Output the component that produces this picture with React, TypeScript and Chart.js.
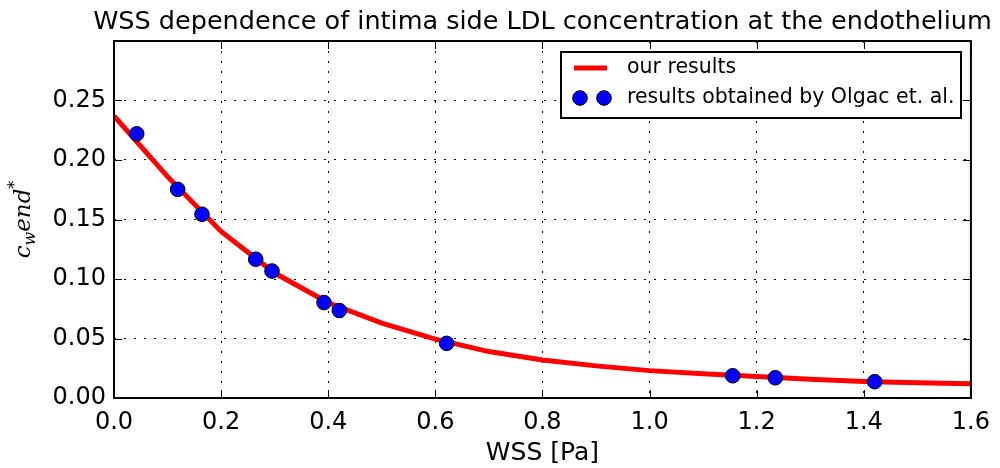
import React, { useEffect, useRef } from "react";
import { Chart, registerables } from "chart.js";

Chart.register(...registerables);

const titleText = "WSS dependence of intima side LDL concentration at the endothelium";
const xTitle = "WSS [Pa]";
const lineLabel = "our results";
const dotLabel = "results obtained by Olgac et. al.";

const curveX = [0.0, 0.1, 0.2, 0.3, 0.4, 0.5, 0.6, 0.7, 0.8, 0.9, 1.0, 1.1, 1.2, 1.3, 1.4, 1.5, 1.6];
const curveY = [0.237, 0.186, 0.140, 0.105, 0.080, 0.063, 0.0495, 0.039, 0.032, 0.027, 0.023, 0.0204, 0.018, 0.0157, 0.0139, 0.0128, 0.012];

const olgacX = [0.0424, 0.1189, 0.1643, 0.2646, 0.2950, 0.3921, 0.4207, 0.6211, 1.1552, 1.2347, 1.4203];
const olgacY = [0.2220, 0.1753, 0.1544, 0.1166, 0.1067, 0.0802, 0.0735, 0.0459, 0.0187, 0.0170, 0.0137];

const xTicks = [0, 0.2, 0.4, 0.6, 0.8, 1.0, 1.2, 1.4, 1.6];
const yTicks = [0, 0.05, 0.1, 0.15, 0.2, 0.25, 0.3];

const FONT = "'DejaVu Sans', sans-serif";

const decorPlugin = {
  id: "decor",
  afterDraw(chart: any) {
    const { ctx, chartArea } = chart;
    const { left, right, top, bottom } = chartArea;
    const xs = chart.scales.x;
    const ys = chart.scales.y;
    ctx.save();
    // inward ticks
    ctx.strokeStyle = "#000";
    ctx.lineWidth = 1;
    const tl = 8;
    ctx.beginPath();
    xTicks.forEach((v) => {
      const px = Math.round(xs.getPixelForValue(v)) + 0.5;
      ctx.moveTo(px, bottom);
      ctx.lineTo(px, bottom - tl);
      ctx.moveTo(px, top);
      ctx.lineTo(px, top + tl);
    });
    yTicks.forEach((v) => {
      const py = Math.round(ys.getPixelForValue(v)) + 0.5;
      ctx.moveTo(left, py);
      ctx.lineTo(left + tl, py);
      ctx.moveTo(right, py);
      ctx.lineTo(right - tl, py);
    });
    ctx.stroke();
    // frame
    ctx.lineWidth = 2;
    ctx.strokeRect(left, top, right - left, bottom - top);

    // title
    ctx.fillStyle = "#000";
    ctx.font = `25.5px ${FONT}`;
    ctx.textAlign = "center";
    ctx.textBaseline = "alphabetic";
    ctx.fillText(titleText, (left + right) / 2, 29);

    // x title
    ctx.font = `25px ${FONT}`;
    ctx.fillText(xTitle, (left + right) / 2, 460);

    // y title (math italic)
    ctx.save();
    ctx.translate(30, (top + bottom) / 2);
    ctx.rotate(-Math.PI / 2);
    const big = "italic 23px 'DejaVu Serif', serif";
    const small = "italic 16px 'DejaVu Serif', serif";
    ctx.font = big;
    const wc = ctx.measureText("c").width;
    const wend = ctx.measureText("end").width;
    ctx.font = small;
    const ww = ctx.measureText("w").width;
    const ws = ctx.measureText("*").width;
    const total = wc + ww + wend + ws;
    let cx = -total / 2;
    ctx.textAlign = "left";
    ctx.font = big;
    ctx.fillText("c", cx, 0);
    cx += wc;
    ctx.font = small;
    ctx.fillText("w", cx, 5);
    cx += ww;
    ctx.font = big;
    ctx.fillText("end", cx, 0);
    cx += wend;
    ctx.font = small;
    ctx.fillText("*", cx, -10);
    ctx.restore();

    // legend
    const lx = 561, ly = 52, lw = 400, lh = 66;
    ctx.fillStyle = "#fff";
    ctx.fillRect(lx, ly, lw, lh);
    ctx.lineWidth = 2;
    ctx.strokeStyle = "#000";
    ctx.strokeRect(lx, ly, lw, lh);
    ctx.strokeStyle = "#ff0000";
    ctx.lineWidth = 5;
    ctx.beginPath();
    ctx.moveTo(574, 68);
    ctx.lineTo(607, 68);
    ctx.stroke();
    [580, 604].forEach((mx) => {
      ctx.beginPath();
      ctx.arc(mx, 98, 7.3, 0, Math.PI * 2);
      ctx.fillStyle = "#0000ff";
      ctx.fill();
      ctx.lineWidth = 1;
      ctx.strokeStyle = "#000";
      ctx.stroke();
    });
    ctx.fillStyle = "#000";
    ctx.font = `20.5px ${FONT}`;
    ctx.textAlign = "left";
    ctx.textBaseline = "middle";
    ctx.fillText(lineLabel, 627, 68);
    ctx.fillText(dotLabel, 627, 98);
    ctx.restore();
  },
};

export default function App() {
  const ref = useRef<HTMLCanvasElement | null>(null);
  useEffect(() => {
    document.body.style.margin = "0";
    const canvas = ref.current!;
    const chart = new Chart(canvas, {
      type: "scatter",
      data: {
        datasets: [
          {
            label: lineLabel,
            data: curveX.map((x, i) => ({ x, y: curveY[i] })),
            showLine: true,
            borderColor: "#ff0000",
            backgroundColor: "#ff0000",
            borderWidth: 5,
            pointRadius: 0,
            tension: 0,
            order: 2,
          },
          {
            label: dotLabel,
            data: olgacX.map((x, i) => ({ x, y: olgacY[i] })),
            showLine: false,
            pointRadius: 7.3,
            pointBackgroundColor: "#0000ff",
            pointBorderColor: "#000",
            pointBorderWidth: 1,
            order: 1,
          },
        ],
      },
      options: {
        responsive: false,
        animation: false,
        layout: { padding: { left: 0, right: 29, top: 41, bottom: 0 } },
        plugins: {
          legend: { display: false },
          title: { display: false },
          tooltip: { enabled: false },
        },
        scales: {
          x: {
            type: "linear",
            min: 0,
            max: 1.6,
            afterFit(scale: any) {
              scale.height = 70;
            },
            afterBuildTicks(scale: any) {
              scale.ticks = xTicks.map((v) => ({ value: v }));
            },
            ticks: {
              color: "#000",
              font: { family: FONT, size: 24 },
              padding: 10,
              maxRotation: 0,
              callback: (v: any) => Number(v).toFixed(1),
            },
            grid: { color: "#000", lineWidth: 1, drawTicks: false },
            border: { display: false, dash: [2, 8] },
          },
          y: {
            type: "linear",
            min: 0,
            max: 0.3,
            afterFit(scale: any) {
              scale.width = 114;
            },
            afterBuildTicks(scale: any) {
              scale.ticks = yTicks.map((v) => ({ value: v }));
            },
            ticks: {
              color: "#000",
              font: { family: FONT, size: 24 },
              padding: 8,
              callback: (v: any) => (Number(v) > 0.29 ? "" : Number(v).toFixed(2)),
            },
            grid: { color: "#000", lineWidth: 1, drawTicks: false },
            border: { display: false, dash: [2, 8] },
          },
        },
      },
      plugins: [decorPlugin],
    });
    return () => chart.destroy();
  }, []);
  return (
    <div style={{ width: 1000, height: 468, position: "relative" }}>
      <canvas ref={ref} width={1000} height={468} style={{ display: "block" }} />
    </div>
  );
}
